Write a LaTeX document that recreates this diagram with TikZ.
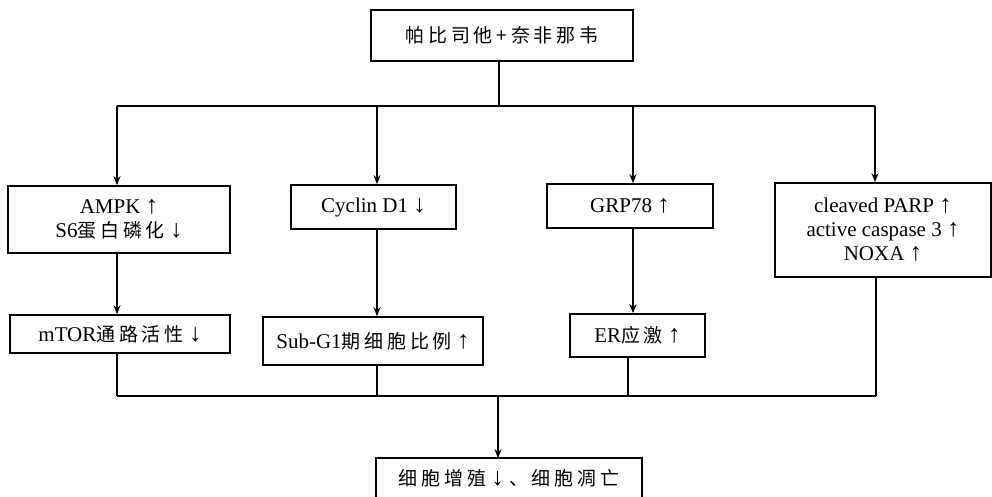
\documentclass[tikz,border=0pt]{standalone}
\usepackage{fontspec}
\setmainfont{Liberation Serif}
\newfontfamily\zhf[LetterSpace=20]{Noto Sans CJK SC}
\newcommand{\zh}[1]{{\fontsize{19}{24}\zhf #1}}
\newcommand{\up}{{\fontsize{25}{24}\selectfont ↑}}
\newcommand{\dn}{{\fontsize{25}{24}\selectfont ↓}}
\usetikzlibrary{arrows.meta}
\begin{document}
\begin{tikzpicture}[x=1pt,y=-1pt,
  box/.style={draw,line width=1.6pt,inner sep=0pt,align=center,
    font=\fontsize{21}{24}\selectfont},
  ln/.style={line width=1.6pt},
  arr/.style={line width=1.6pt,-{Stealth[length=9pt,width=7pt]}}]
\useasboundingbox (0,0) rectangle (992,497);
% nodes
\node[box,minimum width=262pt,minimum height=51pt] (top) at (502,35.5)
  {\zh{帕比司他+奈非那韦}};
\node[box,minimum width=222pt,minimum height=67pt] (b1) at (119,219.5)
  {AMPK \up\\S6\zh{蛋白磷化} \dn};
\node[box,minimum width=165pt,minimum height=44pt] (b2) at (373.5,207)
  {Cyclin D1 \dn};
\node[box,minimum width=166pt,minimum height=44pt] (b3) at (630,206)
  {GRP78 \up};
\node[box,minimum width=216pt,minimum height=94pt] (b4) at (883,230)
  {cleaved PARP \up\\active caspase 3 \up\\NOXA \up};
\node[box,minimum width=220pt,minimum height=38pt] (c1) at (120,334)
  {mTOR\zh{通路活性} \dn};
\node[box,minimum width=220pt,minimum height=48pt] (c2) at (373,341)
  {Sub-G1\zh{期细胞比例} \up};
\node[box,minimum width=135pt,minimum height=43pt] (c3) at (637.5,335.5)
  {ER\zh{应激} \up};
\node[box,draw=none,minimum width=264pt,minimum height=38pt] (fin) at (509,478)
  {\zh{细胞增殖} \dn\ \zh{、细胞凋亡}};
\draw[ln] (fin.south west) |- (fin.north east) -- (fin.south east);
% top split
\coordinate (j) at (499,106);
\coordinate (t1) at (117,106);
\coordinate (t2) at (377,106);
\coordinate (t3) at (633,106);
\coordinate (t4) at (875,106);
\draw[ln] (top.south -| j) -- (j);
\draw[ln] (t1) -- (t4);
\draw[arr] (t1) -- (t1 |- b1.north);
\draw[arr] (t2) -- (t2 |- b2.north);
\draw[arr] (t3) -- (t3 |- b3.north);
\draw[arr] (t4) -- (t4 |- b4.north);
% middle
\draw[arr] (b1.south -| t1) -- (c1.north -| t1);
\draw[arr] (b2.south -| t2) -- (c2.north -| t2);
\draw[arr] (b3.south -| t3) -- (c3.north -| t3);
% bottom merge
\coordinate (m1) at (117,396);
\coordinate (m2) at (377,396);
\coordinate (m3) at (628,396);
\coordinate (m4) at (876,396);
\coordinate (mj) at (498,396);
\draw[ln] (c1.south -| m1) -- (m1);
\draw[ln] (c2.south -| m2) -- (m2);
\draw[ln] (c3.south -| m3) -- (m3);
\draw[ln] (b4.south -| m4) -- (m4);
\draw[ln] (m1) -- (m4);
\draw[arr] (mj) -- (fin.north -| mj);
\end{tikzpicture}
\end{document}
